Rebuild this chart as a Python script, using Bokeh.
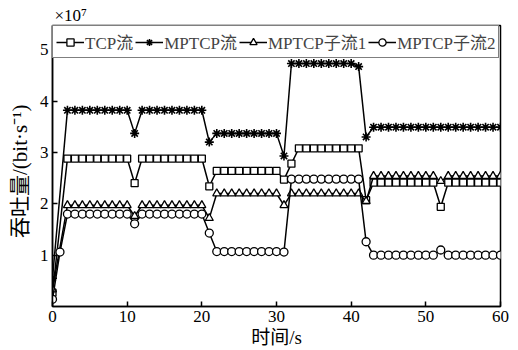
from bokeh.plotting import figure
from bokeh.models import Legend, LegendItem, FixedTicker, Range1d
from bokeh.embed import file_html
from bokeh.resources import INLINE

# Sampling times (s): the circle series also has a sample at t=1 s
t_main = [0] + list(range(2, 61))
t_sub2 = list(range(0, 61))

# Throughput series (units of 1e7 bit/s)
tcp = ([0.27] + [2.88] * 9 + [2.40] + [2.88] * 9 + [2.34] + [2.64] * 9 + [2.47, 2.78]
       + [3.08] * 9 + [2.07] + [2.41] * 9 + [1.94] + [2.41] * 8)
mptcp = ([0.55] + [3.82] * 9 + [3.37] + [3.82] * 9 + [3.20] + [3.37] * 9 + [2.93]
         + [4.73] * 9 + [4.67, 3.30] + [3.49] * 18)
sub1 = ([0.33] + [1.97] * 9 + [1.76] + [1.97] * 9 + [1.72] + [2.20] * 9 + [1.97]
        + [2.20] * 10 + [2.05] + [2.54] * 9 + [2.44] + [2.54] * 8)
sub2 = ([0.14, 1.06] + [1.80] * 9 + [1.61] + [1.80] * 9 + [1.43] + [1.07] * 9 + [1.06]
        + [2.48] * 10 + [1.26] + [1.00] * 9 + [1.10] + [1.00] * 8)

labels = ["TCP流", "MPTCP流", "MPTCP子流1", "MPTCP子流2"]
x_ticks = [0, 10, 20, 30, 40, 50, 60]
y_ticks = [1, 2, 3, 4, 5]

SERIF = "Liberation Serif, Noto Sans CJK SC"

p = figure(width=518, height=350, output_backend="svg", toolbar_location=None,
           x_range=Range1d(0, 60), y_range=Range1d(0, 5.47),
           min_border_left=52, min_border_right=18, min_border_top=25, min_border_bottom=44)
p.background_fill_color = "white"
p.border_fill_color = "white"
p.outline_line_color = "black"
p.outline_line_width = 1.5
p.xgrid.visible = False
p.ygrid.visible = False

# scale factor shown above the y axis
p.title.text = "×10⁷"
p.title.align = "left"
p.title.offset = 2
p.title.standoff = 2
p.title.text_font = SERIF
p.title.text_font_size = "17px"
p.title.text_font_style = "normal"
p.title.text_color = "black"

for ax in (p.xaxis[0], p.yaxis[0]):
    ax.axis_line_width = 1.5
    ax.axis_line_color = "black"
    ax.major_tick_in = 5
    ax.major_tick_out = 0
    ax.minor_tick_line_color = None
    ax.major_tick_line_width = 1.5
    ax.major_label_text_font = SERIF
    ax.major_label_text_font_size = "17px"
    ax.major_label_text_color = "black"
    ax.axis_label_text_font = SERIF
    ax.axis_label_text_font_size = "19px"
    ax.axis_label_text_font_style = "normal"
    ax.axis_label_text_color = "black"
    ax.major_label_standoff = 4

p.xaxis.ticker = FixedTicker(ticks=x_ticks)
p.yaxis.ticker = FixedTicker(ticks=y_ticks)
p.xaxis.axis_label = "时间/s"
p.yaxis.axis_label = "吞吐量/(bit·s⁻¹)\u2002"
p.xaxis.axis_label_standoff = 2
p.yaxis.axis_label_standoff = 5
p.yaxis.axis_label_text_font_size = "21px"

LW = 1.5
l0 = p.line(t_main, tcp, line_color="black", line_width=LW)
m0 = p.scatter(t_main, tcp, marker="square", size=7, fill_color="white", line_color="black", line_width=1.3)
l1 = p.line(t_main, mptcp, line_color="black", line_width=LW)
m1 = p.scatter(t_main, mptcp, marker="asterisk", size=9, line_color="black", line_width=1.6)
l2 = p.line(t_main, sub1, line_color="black", line_width=LW)
m2 = p.scatter(t_main, sub1, marker="triangle", size=8, fill_color="white", line_color="black", line_width=1.3)
l3 = p.line(t_sub2, sub2, line_color="black", line_width=LW)
m3 = p.scatter(t_sub2, sub2, marker="circle", size=8, fill_color="white", line_color="black", line_width=1.3)

legend = Legend(items=[LegendItem(label=labels[0], renderers=[l0, m0]),
                       LegendItem(label=labels[1], renderers=[l1, m1]),
                       LegendItem(label=labels[2], renderers=[l2, m2]),
                       LegendItem(label=labels[3], renderers=[l3, m3])],
                orientation="horizontal", location="top_left", margin=0,
                padding=3, spacing=2, glyph_width=28, glyph_height=18, label_standoff=1,
                label_text_font=SERIF, label_text_font_size="17px",
                border_line_color="black", border_line_width=1.5,
                background_fill_alpha=1.0)
p.add_layout(legend)

open("out.html", "w").write(file_html(p, INLINE))
